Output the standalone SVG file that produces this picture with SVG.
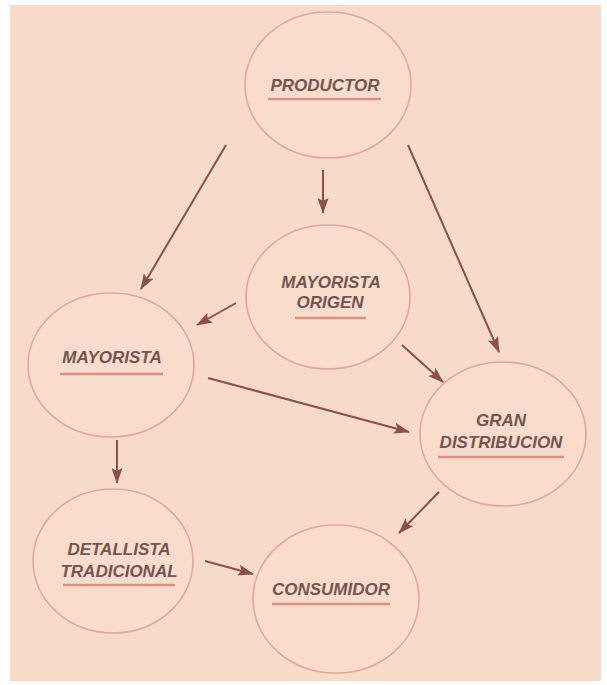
<svg xmlns="http://www.w3.org/2000/svg" width="607" height="685" viewBox="0 0 607 685">
<defs>
<marker id="ah" viewBox="0 0 16 11" refX="15" refY="5.5" markerWidth="16" markerHeight="11" markerUnits="userSpaceOnUse" orient="auto">
<path d="M0,0 L16,5.5 L0,11 L3,5.5 Z" fill="#875248"/>
</marker>
<style>
.n ellipse{fill:#f9dccb;stroke:#dca8a0;stroke-width:1.6}
.n text{font-family:"Liberation Sans",Arial,sans-serif;font-weight:bold;font-style:italic;font-size:17px;fill:#735650;text-anchor:middle}
.n line{stroke:#d9907e;stroke-width:2.5}
.c line{stroke:#875248;stroke-width:2;marker-end:url(#ah)}
</style>
</defs>
<rect width="607" height="685" fill="#ffffff"/>
<rect x="10" y="5" width="591" height="676" fill="#f8dac8"/>
<g id="productor" class="n">
<ellipse cx="328" cy="85" rx="83" ry="73"/>
<text x="325" y="91">PRODUCTOR</text>
<line x1="268" y1="99" x2="381" y2="99"/>
</g>
<g id="mayorista-origen" class="n">
<ellipse cx="328" cy="297" rx="82" ry="72"/>
<text x="331" y="288">MAYORISTA</text>
<text x="330" y="308">ORIGEN</text>
<line x1="295" y1="318" x2="366" y2="318"/>
</g>
<g id="mayorista" class="n">
<ellipse cx="111" cy="365" rx="83" ry="72"/>
<text x="112" y="363">MAYORISTA</text>
<line x1="60" y1="374" x2="163" y2="374"/>
</g>
<g id="gran-distribucion" class="n">
<ellipse cx="503" cy="434" rx="83" ry="72"/>
<text x="501" y="426">GRAN</text>
<text x="501" y="448">DISTRIBUCION</text>
<line x1="438" y1="457" x2="564" y2="457"/>
</g>
<g id="detallista" class="n">
<ellipse cx="113" cy="561" rx="80" ry="72"/>
<text x="119" y="555">DETALLISTA</text>
<text x="119" y="577">TRADICIONAL</text>
<line x1="63" y1="585" x2="175" y2="585"/>
</g>
<g id="consumidor" class="n">
<ellipse cx="336" cy="599" rx="83" ry="74"/>
<text x="331" y="595">CONSUMIDOR</text>
<line x1="272" y1="604" x2="390" y2="604"/>
</g>
<g id="connectors" class="c">
<line x1="226" y1="145" x2="141" y2="289"/>
<line x1="323" y1="170" x2="323" y2="213"/>
<line x1="408" y1="145" x2="499" y2="352"/>
<line x1="236" y1="303" x2="197" y2="325"/>
<line x1="402" y1="345" x2="443" y2="382"/>
<line x1="208" y1="378" x2="409" y2="432"/>
<line x1="117" y1="440" x2="117" y2="483"/>
<line x1="439" y1="492" x2="399" y2="533"/>
<line x1="205" y1="561" x2="253" y2="574"/>
</g>
</svg>
